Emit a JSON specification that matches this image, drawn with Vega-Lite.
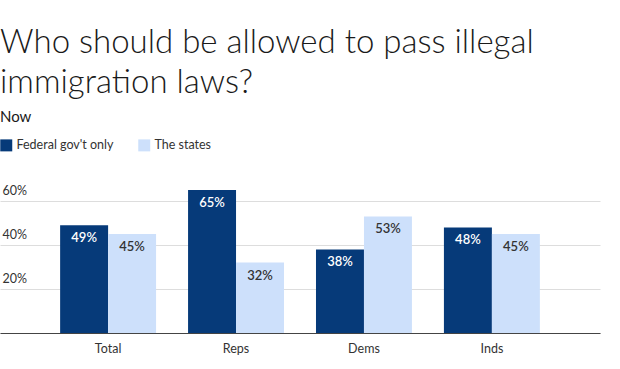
{
  "$schema": "https://vega.github.io/schema/vega-lite/v6.json",
  "width": 600,
  "height": 154,
  "autosize": {"type": "none"},
  "padding": {"left": 0, "top": 179, "right": 20, "bottom": 36},
  "background": "white",
  "title": {
    "text": ["Who should be allowed to pass illegal", "immigration laws?"],
    "subtitle": "Now",
    "anchor": "start",
    "frame": "group",
    "font": "Lato",
    "fontSize": 33,
    "fontWeight": 300,
    "lineHeight": 40,
    "color": "#1a1a1a",
    "subtitleFont": "Lato",
    "subtitleFontSize": 15,
    "subtitleColor": "#1a1a1a",
    "subtitlePadding": 10,
    "offset": 14
  },
  "config": {
    "view": {"stroke": null},
    "font": "Lato"
  },
  "data": {
    "values": [
      {"group": "Total", "answer": "Federal gov't only", "value": 0.49},
      {"group": "Total", "answer": "The states", "value": 0.45},
      {"group": "Reps", "answer": "Federal gov't only", "value": 0.65},
      {"group": "Reps", "answer": "The states", "value": 0.32},
      {"group": "Dems", "answer": "Federal gov't only", "value": 0.38},
      {"group": "Dems", "answer": "The states", "value": 0.53},
      {"group": "Inds", "answer": "Federal gov't only", "value": 0.48},
      {"group": "Inds", "answer": "The states", "value": 0.45}
    ]
  },
  "encoding": {
    "x": {
      "field": "group",
      "type": "nominal",
      "sort": ["Total", "Reps", "Dems", "Inds"],
      "scale": {"paddingInner": 0.25, "paddingOuter": 0.47},
      "axis": {
        "title": null,
        "labelAngle": 0,
        "ticks": false,
        "domain": true,
        "domainColor": "#444",
        "domainWidth": 1.2,
        "labelFont": "Lato",
        "labelFontSize": 12.5,
        "labelColor": "#333",
        "labelPadding": 9
      }
    },
    "xOffset": {
      "field": "answer",
      "type": "nominal",
      "sort": ["Federal gov't only", "The states"],
      "scale": {"paddingInner": 0, "paddingOuter": 0}
    },
    "y": {
      "field": "value",
      "type": "quantitative",
      "scale": {"domain": [0, 0.7]},
      "axis": {
        "title": null,
        "values": [0, 0.2, 0.4, 0.6],
        "format": ".0%",
        "labelExpr": "datum.value == 0 ? '' : datum.label",
        "grid": true,
        "gridColor": "#dddddd",
        "domain": false,
        "ticks": false,
        "tickSize": 0,
        "labelAlign": "left",
        "labelBaseline": "alphabetic",
        "labelPadding": -2,
        "labelOffset": -7,
        "labelFont": "Lato",
        "labelFontSize": 12.5,
        "labelColor": "#333"
      }
    }
  },
  "layer": [
    {
      "mark": {"type": "bar"},
      "encoding": {
        "color": {
          "field": "answer",
          "type": "nominal",
          "sort": ["Federal gov't only", "The states"],
          "scale": {"domain": ["Federal gov't only", "The states"], "range": ["#063a79", "#cde0fb"]},
          "legend": {
            "title": null,
            "orient": "none",
            "legendX": 0,
            "legendY": -40,
            "direction": "horizontal",
            "symbolType": "square",
            "symbolSize": 144,
            "symbolStrokeWidth": 0,
            "labelFont": "Lato",
            "labelFontSize": 12.5,
            "labelColor": "#333",
            "labelOffset": 4,
            "columnPadding": 24
          }
        }
      }
    },
    {
      "mark": {"type": "text", "baseline": "middle", "dy": 13, "font": "Lato", "fontSize": 13, "fontWeight": 600},
      "encoding": {
        "text": {"field": "value", "type": "quantitative", "format": ".0%"},
        "color": {
          "condition": {"test": "datum.answer == \"Federal gov't only\"", "value": "white"},
          "value": "#333"
        }
      }
    }
  ]
}
